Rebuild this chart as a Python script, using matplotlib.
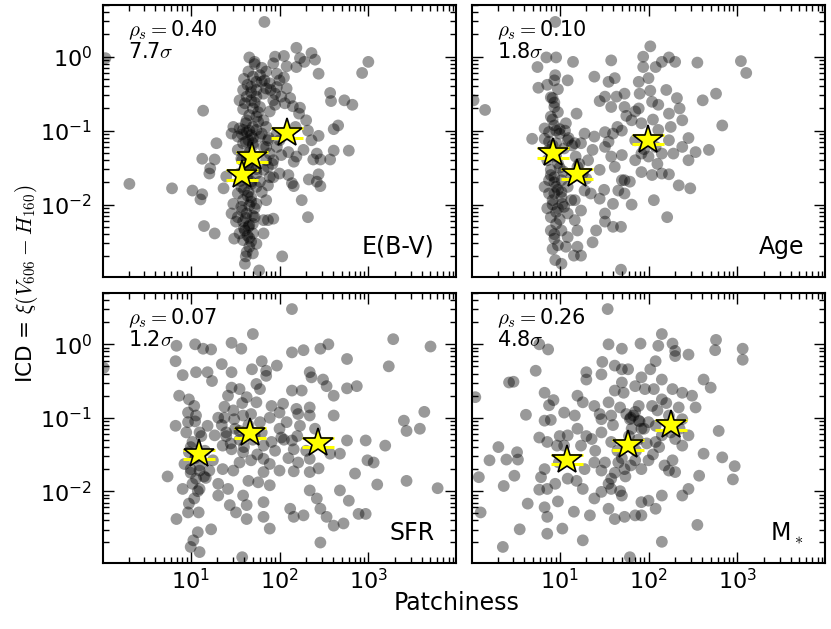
import numpy as np
import matplotlib
matplotlib.use("Agg")
import matplotlib.pyplot as plt

plt.rcParams['font.family'] = ['DejaVu Sans']
plt.rcParams['mathtext.fontset'] = 'cm'

# ---- data (log10 of Patchiness, log10 of ICD) ----
ebv_logx = [1.66,1.72,1.78,1.74,1.83,1.89,1.85,1.68,1.63,1.74,1.82,1.78,1.70,1.59,1.66,1.74,1.63,1.82,1.89,1.93,
            1.97,1.93,1.97,2.00,1.95,1.85,1.74,1.63,1.55,1.48,1.46,1.68,1.78,1.87,1.82,1.70,1.59,1.53,1.57,1.65,
            1.74,1.78,1.63,1.57,1.65,1.59,1.68,1.74,1.57,1.63,1.53,1.59,1.65,1.61,1.51,1.70,1.59,1.66,1.63,1.70,
            1.61,1.77,1.55,1.82,1.85,1.80,1.87,1.93,1.89,1.97,2.02,1.85,1.87,1.82,1.89,1.74,1.46,1.48,1.82,1.74,
            1.70,1.66,1.53,1.59,1.70,1.80,1.55,1.61,1.68,1.74,1.70,1.80,1.65,1.85,1.59,1.65,1.55,1.68,1.72,1.66,
            1.53,1.70,1.63,1.85,
            1.83,0.04,0.31,0.79,1.14,1.02,1.13,1.11,1.15,1.27,1.49,1.13,1.27,1.22,1.21,1.29,1.37,1.40,2.19,2.36,
            2.40,2.23,2.28,2.19,2.08,2.05,1.95,2.44,3.00,2.93,2.57,2.58,2.73,2.82,2.08,2.12,2.15,2.23,2.06,2.02,
            2.30,2.32,2.22,2.18,2.66,2.61,2.44,2.36,2.78,2.61,2.57,2.42,2.46,2.38,2.27,2.19,2.16,2.10,2.44,2.42,
            2.46,2.33,2.14,2.16,2.10,2.00,1.93,2.25,2.32,2.03,1.93,1.87,2.00,1.97,
            1.60,1.64,1.68,1.72,1.76,1.62,1.66,1.70,1.58,1.62,1.66,1.70,1.74,1.60,1.64,1.68,1.56,1.60,1.64,1.68,
            1.72,1.58,1.62,1.66,1.60,1.64,1.68,1.62,1.66,1.70,1.58,1.64,1.76,1.80,1.72,1.90,1.95,2.05,1.88,1.92]
ebv_logy = [-0.01,-0.07,-0.25,-0.34,-0.32,-0.36,-0.43,-0.41,-0.54,-0.54,-0.50,-0.68,-0.70,-0.71,-0.79,-0.81,-0.86,-0.86,-0.74,-0.59,
            -0.23,-0.09,-0.41,-0.32,-0.65,-0.95,-0.99,-1.02,-0.97,-0.95,-1.04,-1.06,-1.08,-1.13,-1.22,-1.20,-1.17,-1.26,-1.38,-1.49,
            -1.58,-1.69,-1.65,-1.76,-1.83,-1.94,-1.90,-1.99,-2.03,-2.12,-2.17,-2.23,-2.30,-2.35,-2.23,-2.39,-2.48,-2.57,-2.64,-2.66,
            -2.80,-2.89,-2.39,-2.21,-1.94,-1.83,-1.74,-1.40,-1.31,-1.22,-1.33,-1.40,-1.49,-1.53,-1.63,-1.76,-2.12,-1.99,-2.39,-2.53,
            -1.17,-1.29,-1.08,-0.99,-0.95,-1.04,-0.59,-0.63,-0.59,-0.45,-0.27,-0.34,-0.20,-0.20,-0.45,-1.13,-1.58,-1.69,-2.17,-2.01,
            -1.85,-2.26,-1.35,-1.22,
            0.47,-0.02,-1.72,-1.78,-0.73,-1.81,-1.86,-1.93,-2.29,-2.39,-2.46,-1.38,-1.39,-1.51,-1.58,-1.17,-1.78,-1.62,0.12,0.05,
            -0.04,-0.02,-0.07,-0.14,-0.13,0.01,0.00,-0.23,-0.07,-0.22,-0.49,-0.60,-0.59,-0.65,-0.43,-0.56,-0.67,-0.69,-0.63,-0.54,
            -0.86,-1.00,-0.77,-0.95,-0.93,-0.98,-1.07,-1.13,-1.27,-1.27,-1.39,-1.31,-1.39,-1.39,-1.26,-1.35,-1.42,-1.29,-1.59,-1.69,
            -1.75,-1.66,-1.71,-1.75,-1.60,-1.58,-1.63,-1.94,-2.17,-2.70,-2.19,-2.21,-1.13,-1.04,
            -0.30,-0.38,-0.48,-0.62,-0.75,-0.90,-1.00,-1.10,-1.05,-1.15,-1.30,-1.45,-1.52,-1.55,-1.62,-1.72,-1.68,-1.80,-1.88,-1.96,
            -2.05,-2.08,-2.18,-2.28,-2.32,-2.42,-2.50,-2.70,-2.45,-2.15,-1.40,-1.45,-0.88,-0.15,-0.10,-0.45,-0.50,-0.28,-1.10,-1.45]

age_logx = [0.95,0.85,0.96,0.75,1.15,0.95,0.94,0.76,0.86,0.98,1.09,0.03,0.16,0.92,0.94,0.90,0.94,0.83,0.69,0.88,
            1.00,1.07,1.19,1.09,1.17,1.05,0.98,0.90,0.88,0.96,0.94,1.02,1.09,0.92,0.98,1.05,1.09,0.90,0.96,0.90,
            1.02,1.09,1.20,0.94,0.92,1.07,1.20,1.16,1.24,0.95,1.02,1.69,1.37,1.41,1.17,1.24,1.17,1.28,1.26,1.32,
            1.37,1.45,1.39,1.51,1.60,1.70,1.51,1.58,1.62,1.70,1.66,1.73,1.79,1.45,1.51,1.60,1.51,1.69,1.81,1.39,
            1.58,1.55,1.62,1.51,1.64,1.58,1.73,1.73,1.85,1.89,1.89,2.00,1.94,1.94,2.02,2.08,2.15,2.23,2.30,2.55,
            3.04,3.10,2.02,2.04,2.11,2.32,2.23,1.92,1.81,2.11,2.25,2.38,2.61,2.76,2.83,2.23,2.38,2.15,2.08,2.00,
            1.92,1.85,1.70,1.85,2.28,2.53,2.68,2.45,2.15,2.23,2.04,1.92,2.34,2.47,2.06,2.21,1.73,1.28,1.24,0.83,
            0.88,0.86,0.96,0.94,1.02,1.13,1.20,1.03,1.13,0.86,0.88,0.83,
            0.90,0.94,0.98,0.92,0.96,1.00,0.88,0.92,0.96,1.00,1.04,0.90,0.94,0.98,1.02,0.92,0.96,1.00,0.94,0.98,
            1.06,1.10,1.14,1.18,1.22,1.30,1.35,1.55,1.65,1.75,1.90,1.95,2.05,2.10,2.20,2.35,2.45,1.45,1.50,1.60]
age_logy = [0.47,-0.01,-0.01,-0.14,-0.07,-0.25,-0.32,-0.42,-0.38,-0.44,-0.32,-0.59,-0.72,-0.56,-0.68,-0.81,-0.93,-0.97,-1.11,-1.02,
            -1.04,-0.90,-0.77,-1.13,-1.17,-1.24,-1.44,-1.53,-1.67,-1.76,-1.85,-1.83,-1.76,-1.94,-2.05,-2.03,-2.12,-2.17,-2.26,-2.35,
            -2.35,-2.44,-2.35,-2.46,-2.60,-2.57,-2.57,-2.69,-2.69,-2.75,-2.80,-2.88,-2.51,-2.35,-2.21,-2.08,-1.94,-1.81,-1.58,-1.40,
            -1.26,-1.53,-1.08,-1.02,-1.04,-1.00,-1.22,-1.35,-1.49,-1.67,-1.81,-1.85,-1.69,-1.92,-2.12,-1.99,-2.23,-2.30,-2.00,-0.27,
            -0.05,-0.34,-0.29,-0.54,-0.54,-0.68,-0.68,-0.50,-0.74,-0.70,-0.34,-0.29,-0.14,0.00,0.14,-0.14,-0.07,-0.01,-0.07,-0.08,
            -0.06,-0.22,-0.46,-0.61,-0.65,-0.56,-0.77,-0.90,-0.86,-0.99,-0.95,-0.86,-0.59,-0.50,-0.93,-1.13,-1.22,-1.31,-1.22,-1.35,
            -1.31,-1.40,-1.33,-1.13,-1.31,-1.29,-1.26,-1.40,-1.58,-1.59,-1.60,-1.56,-1.74,-1.78,-1.94,-2.17,-1.67,-1.04,-1.17,-1.11,
            -1.26,-1.40,-1.17,-1.63,-1.67,-1.63,-1.49,-1.99,-1.94,-2.05,-1.85,-1.76,
            -0.55,-0.62,-0.75,-0.85,-1.00,-0.98,-1.15,-1.20,-1.35,-1.50,-1.55,-1.60,-1.70,-1.80,-1.90,-2.00,-2.10,-2.20,-2.40,-2.55,
            -1.00,-1.10,-1.20,-1.35,-1.45,-1.65,-1.85,-1.15,-0.95,-0.80,-0.50,-1.25,-0.85,-1.45,-0.45,-0.70,-1.10,-0.60,-1.80,-2.30]

sfr_logx = [2.14,1.70,0.02,0.84,1.05,1.14,1.23,0.83,0.91,1.06,1.19,1.24,1.46,1.57,1.35,1.46,1.69,1.80,1.85,1.85,
            1.97,2.14,2.27,2.46,2.55,2.76,3.28,3.23,3.70,2.34,2.36,2.49,2.53,2.61,2.76,2.87,2.14,2.25,1.74,1.78,
            1.55,1.46,1.42,1.63,1.74,1.91,2.04,2.00,2.19,2.34,2.34,2.21,2.61,2.23,2.08,0.87,0.98,1.04,0.97,1.06,
            0.97,0.83,1.19,1.31,1.38,1.49,1.59,1.78,1.89,1.10,1.02,1.27,1.36,1.46,1.59,1.82,1.91,2.02,2.14,2.76,
            2.97,3.19,3.40,3.43,3.58,3.63,3.43,3.78,3.10,2.99,3.06,2.85,2.68,2.57,2.34,2.34,2.44,2.21,2.16,2.00,
            1.89,1.82,1.68,1.55,1.48,1.36,1.25,1.21,1.10,1.00,0.93,0.74,1.06,1.17,1.10,1.04,0.98,0.97,1.09,0.84,
            1.31,1.42,1.65,1.76,1.89,1.59,1.63,1.51,1.63,1.82,1.82,1.89,2.12,2.27,2.16,2.34,2.42,2.46,2.53,2.61,
            2.72,2.78,2.68,2.97,2.89,2.46,1.23,1.08,1.03,1.00,1.10,1.58,1.06,0.98,1.16,1.40,1.55,1.72,2.00,2.16,
            1.82,1.31,1.44,0.91,
            0.95,1.00,1.05,1.10,1.15,1.02,1.08,1.12,1.00,1.05,1.35,1.40,1.45,1.50,1.55,1.60,1.65,1.70,1.75,1.80,
            1.38,1.48,1.58,1.68,1.95,2.05,2.10,2.20,2.30,2.40]
sfr_logy = [0.48,0.14,-0.32,-0.02,0.00,-0.06,-0.07,-0.23,-0.42,-0.38,-0.38,-0.50,0.02,-0.06,-0.27,-0.38,-0.34,-0.23,-0.36,-0.43,
            -0.29,-0.11,-0.08,-0.06,0.00,-0.20,0.07,-0.30,-0.03,-0.38,-0.45,-0.48,-0.57,-0.70,-0.60,-0.57,-0.63,-0.63,-0.54,-0.61,
            -0.61,-0.59,-0.70,-0.72,-0.79,-0.84,-0.81,-0.93,-0.88,-0.86,-0.97,-0.95,-0.97,-1.11,-1.06,-0.70,-0.75,-0.84,-0.93,-0.97,
            -1.06,-1.11,-1.11,-1.00,-1.00,-1.02,-0.97,-1.06,-1.00,-1.20,-1.33,-1.24,-1.38,-1.43,-1.47,-1.38,-1.33,-1.27,-1.31,-1.31,
            -1.31,-1.38,-1.04,-1.18,-1.15,-0.92,-1.86,-1.96,-1.91,-1.58,-1.61,-1.76,-1.49,-1.49,-1.56,-1.74,-1.69,-1.61,-1.73,-1.72,
            -1.63,-1.56,-1.58,-1.61,-1.72,-1.70,-1.58,-1.72,-1.72,-1.70,-1.63,-1.80,-1.83,-1.82,-1.97,-2.10,-2.17,-2.29,-2.29,-2.38,
            -1.90,-1.97,-1.86,-1.88,-1.92,-2.06,-2.19,-2.29,-2.38,-2.15,-2.35,-2.51,-2.24,-2.33,-2.35,-1.99,-2.10,-2.24,-2.35,-2.47,
            -2.44,-2.13,-1.99,-2.31,-2.31,-2.70,-2.52,-2.56,-2.67,-2.76,-2.83,-2.90,-1.52,-1.47,-1.45,-1.20,-1.18,-1.24,-1.15,-1.43,
            -1.74,-2.06,-2.19,-1.97,
            -1.20,-1.40,-1.55,-1.65,-1.80,-1.90,-2.00,-1.25,-1.75,-1.05,-1.10,-1.25,-1.35,-1.15,-1.30,-1.40,-1.10,-1.30,-1.50,-1.20,
            -0.85,-0.90,-0.80,-0.95,-1.45,-1.30,-1.55,-1.25,-1.45,-1.15]

mstar_logx = [1.54,2.15,1.91,1.55,1.70,2.11,2.27,2.30,2.30,2.45,2.76,2.75,3.06,3.06,0.77,0.87,0.73,0.43,0.48,0.05,
              0.83,0.93,0.88,0.62,0.83,0.90,0.77,0.86,0.31,0.21,0.40,0.52,0.53,0.09,0.37,0.49,0.83,0.79,0.77,0.86,
              0.98,0.64,0.83,0.11,0.86,0.55,0.86,0.36,1.03,1.16,1.26,1.34,1.26,1.09,1.19,1.05,0.97,1.09,1.05,1.17,
              1.26,1.30,1.30,1.47,1.48,1.62,1.70,1.77,1.62,1.72,1.92,2.02,2.08,1.96,2.06,2.15,2.15,2.27,2.38,2.49,
              2.62,2.70,2.34,2.53,1.47,1.58,1.68,1.79,1.83,1.89,1.81,1.92,2.00,2.08,2.15,2.08,2.30,2.38,2.45,2.79,
              2.62,2.83,2.97,2.95,2.57,2.45,2.38,2.30,2.23,2.27,2.00,1.85,1.92,1.73,1.66,1.51,1.39,1.47,1.58,1.58,
              1.47,1.70,1.39,1.55,1.62,1.73,1.85,1.92,2.00,2.08,2.15,1.92,2.15,2.55,1.79,1.36,1.47,1.58,1.24,1.20,
              1.39,1.55,1.89,2.04,2.23,1.70,1.85,2.38,0.99,1.28,
              1.75,1.80,1.85,1.90,1.95,1.78,1.88,1.98,1.60,1.65,1.70,2.10,2.20,2.25,2.35,1.55,1.62,1.68,1.74,1.80,
              1.86,2.05,2.12,2.18,1.40,1.45,1.30,1.20,1.00,0.95]
mstar_logy = [0.48,0.14,0.01,0.00,-0.06,-0.02,0.01,-0.09,-0.16,-0.14,0.06,-0.08,-0.06,-0.21,0.00,-0.07,-0.36,-0.52,-0.51,-0.72,
              -0.66,-0.76,-0.83,-0.96,-1.04,-1.03,-1.27,-1.33,-1.40,-1.58,-1.57,-1.47,-1.57,-1.81,-1.93,-1.79,-1.70,-1.81,-1.98,-1.97,
              -2.14,-2.17,-2.22,-2.29,-2.35,-2.52,-2.58,-2.76,-2.51,-2.28,-2.67,-2.33,-1.97,-1.83,-1.86,-1.38,-1.38,-1.24,-0.93,-0.97,
              -0.79,-0.48,-0.38,-0.41,-0.24,-0.29,-0.34,-0.34,-0.63,-0.66,-0.45,-0.34,-0.23,-0.61,-0.61,-0.48,-0.75,-0.61,-0.66,-0.70,
              -0.48,-0.59,-0.86,-0.86,-1.02,-0.97,-0.86,-1.02,-0.97,-1.04,-1.15,-1.15,-1.06,-1.11,-1.24,-1.33,-1.29,-1.38,-1.24,-1.18,
              -1.49,-1.54,-1.66,-1.84,-1.79,-1.97,-2.06,-1.74,-1.72,-1.58,-1.58,-1.58,-1.70,-1.70,-1.61,-1.61,-1.61,-1.72,-1.83,-1.97,
              -2.01,-2.06,-2.10,-2.24,-2.38,-2.35,-2.33,-2.15,-2.13,-2.24,-2.06,-2.33,-2.69,-2.46,-2.90,-1.29,-1.20,-1.33,-1.38,-1.15,
              -0.84,-0.79,-0.84,-0.84,-0.97,-0.52,-0.57,-1.02,-1.61,-1.70,
              -0.95,-1.00,-0.92,-1.05,-1.15,-1.25,-1.30,-1.35,-1.10,-1.45,-1.55,-0.90,-0.80,-1.20,-1.15,-1.90,-1.75,-2.00,-1.80,-1.65,
              -1.45,-1.50,-1.40,-1.65,-1.45,-0.95,-1.25,-0.70,-1.25,-1.90]

# binned stars: log10 patchiness centre, log10 ICD
ebv_star_logx = [2.08, 1.69, 1.58]
ebv_star_logy = [-1.03, -1.36, -1.60]
age_star_logx = [1.99, 0.93, 1.19]
age_star_logy = [-1.12, -1.30, -1.59]
sfr_star_logx = [1.09, 1.67, 2.43]
sfr_star_logy = [-1.50, -1.21, -1.34]
mstar_star_logx = [1.08, 1.77, 2.25]
mstar_star_logy = [-1.57, -1.37, -1.10]
star_xerr_dex = 0.18

panel_labels = ['E(B-V)', 'Age', 'SFR', r'M$_*$']
rho_values = ['0.40', '0.10', '0.07', '0.26']
sigma_values = ['7.7', '1.8', '1.2', '4.8']

panels = [
    (ebv_logx, ebv_logy, ebv_star_logx, ebv_star_logy),
    (age_logx, age_logy, age_star_logx, age_star_logy),
    (sfr_logx, sfr_logy, sfr_star_logx, sfr_star_logy),
    (mstar_logx, mstar_logy, mstar_star_logx, mstar_star_logy),
]

fig = plt.figure(figsize=(8.31, 6.29), dpi=100)
W, H = 831.0, 629.0
boxes = [(103, 5, 456, 277), (472, 5, 825, 277), (103, 293, 456, 563), (472, 293, 825, 563)]
axes = []
for i, (x0, y0, x1, y1) in enumerate(boxes):
    rect = [x0 / W, 1 - y1 / H, (x1 - x0) / W, (y1 - y0) / H]
    if i == 0:
        ax = fig.add_axes(rect)
    else:
        ax = fig.add_axes(rect, sharex=axes[0], sharey=axes[0])
    axes.append(ax)

for i, ax in enumerate(axes):
    lx, ly, sx, sy = panels[i]
    px = 10 ** np.array(lx)
    py = 10 ** np.array(ly)
    ax.scatter(px, py, s=72, c='k', alpha=0.4, edgecolors='none', zorder=2)
    sxa = np.array(sx)
    sya = np.array(sy)
    for xc, yc in zip(sxa, sya):
        for dy in (0.065, -0.065):
            ax.plot([10 ** (xc - star_xerr_dex), 10 ** (xc + star_xerr_dex)],
                    [10 ** (yc + dy), 10 ** (yc + dy)], color='yellow', lw=2.2,
                    solid_capstyle='butt', zorder=3)
    ax.plot(10 ** sxa, 10 ** sya, ls='none', marker='*', ms=22, mfc='yellow',
            mec='k', mew=1.2, zorder=4)
    ax.set_xscale('log')
    ax.set_yscale('log')
    ax.text(0.07, 0.886, r'$\rho_s=$' + rho_values[i], transform=ax.transAxes,
            fontsize=15, va='baseline', ha='left')
    ax.text(0.07, 0.805, sigma_values[i] + r'$\sigma$', transform=ax.transAxes,
            fontsize=15, va='baseline', ha='left')
    ax.text(0.94, 0.085, panel_labels[i], transform=ax.transAxes,
            fontsize=17, va='baseline', ha='right')
    ax.tick_params(which='both', direction='in', top=True, right=True, labelsize=16)
    ax.tick_params(axis='y', which='both', pad=8)
    ax.tick_params(which='major', length=8, width=1)
    ax.tick_params(which='minor', length=4, width=1)
    for sp in ax.spines.values():
        sp.set_linewidth(1.5)
    if i in (0, 1):
        ax.tick_params(labelbottom=False)
    if i in (1, 3):
        ax.tick_params(labelleft=False)

axes[0].set_xlim(1.03, 9.7e3)
axes[0].set_ylim(1.05e-3, 5.0)

fig.text(0.55, 0.022, 'Patchiness', ha='center', va='bottom', fontsize=17)
fig.text(0.016, 0.548, r'ICD = $\xi(V_{606}-H_{160})$', ha='left', va='center',
         rotation=90, fontsize=15.5)

fig.savefig('out.png', dpi=100)
